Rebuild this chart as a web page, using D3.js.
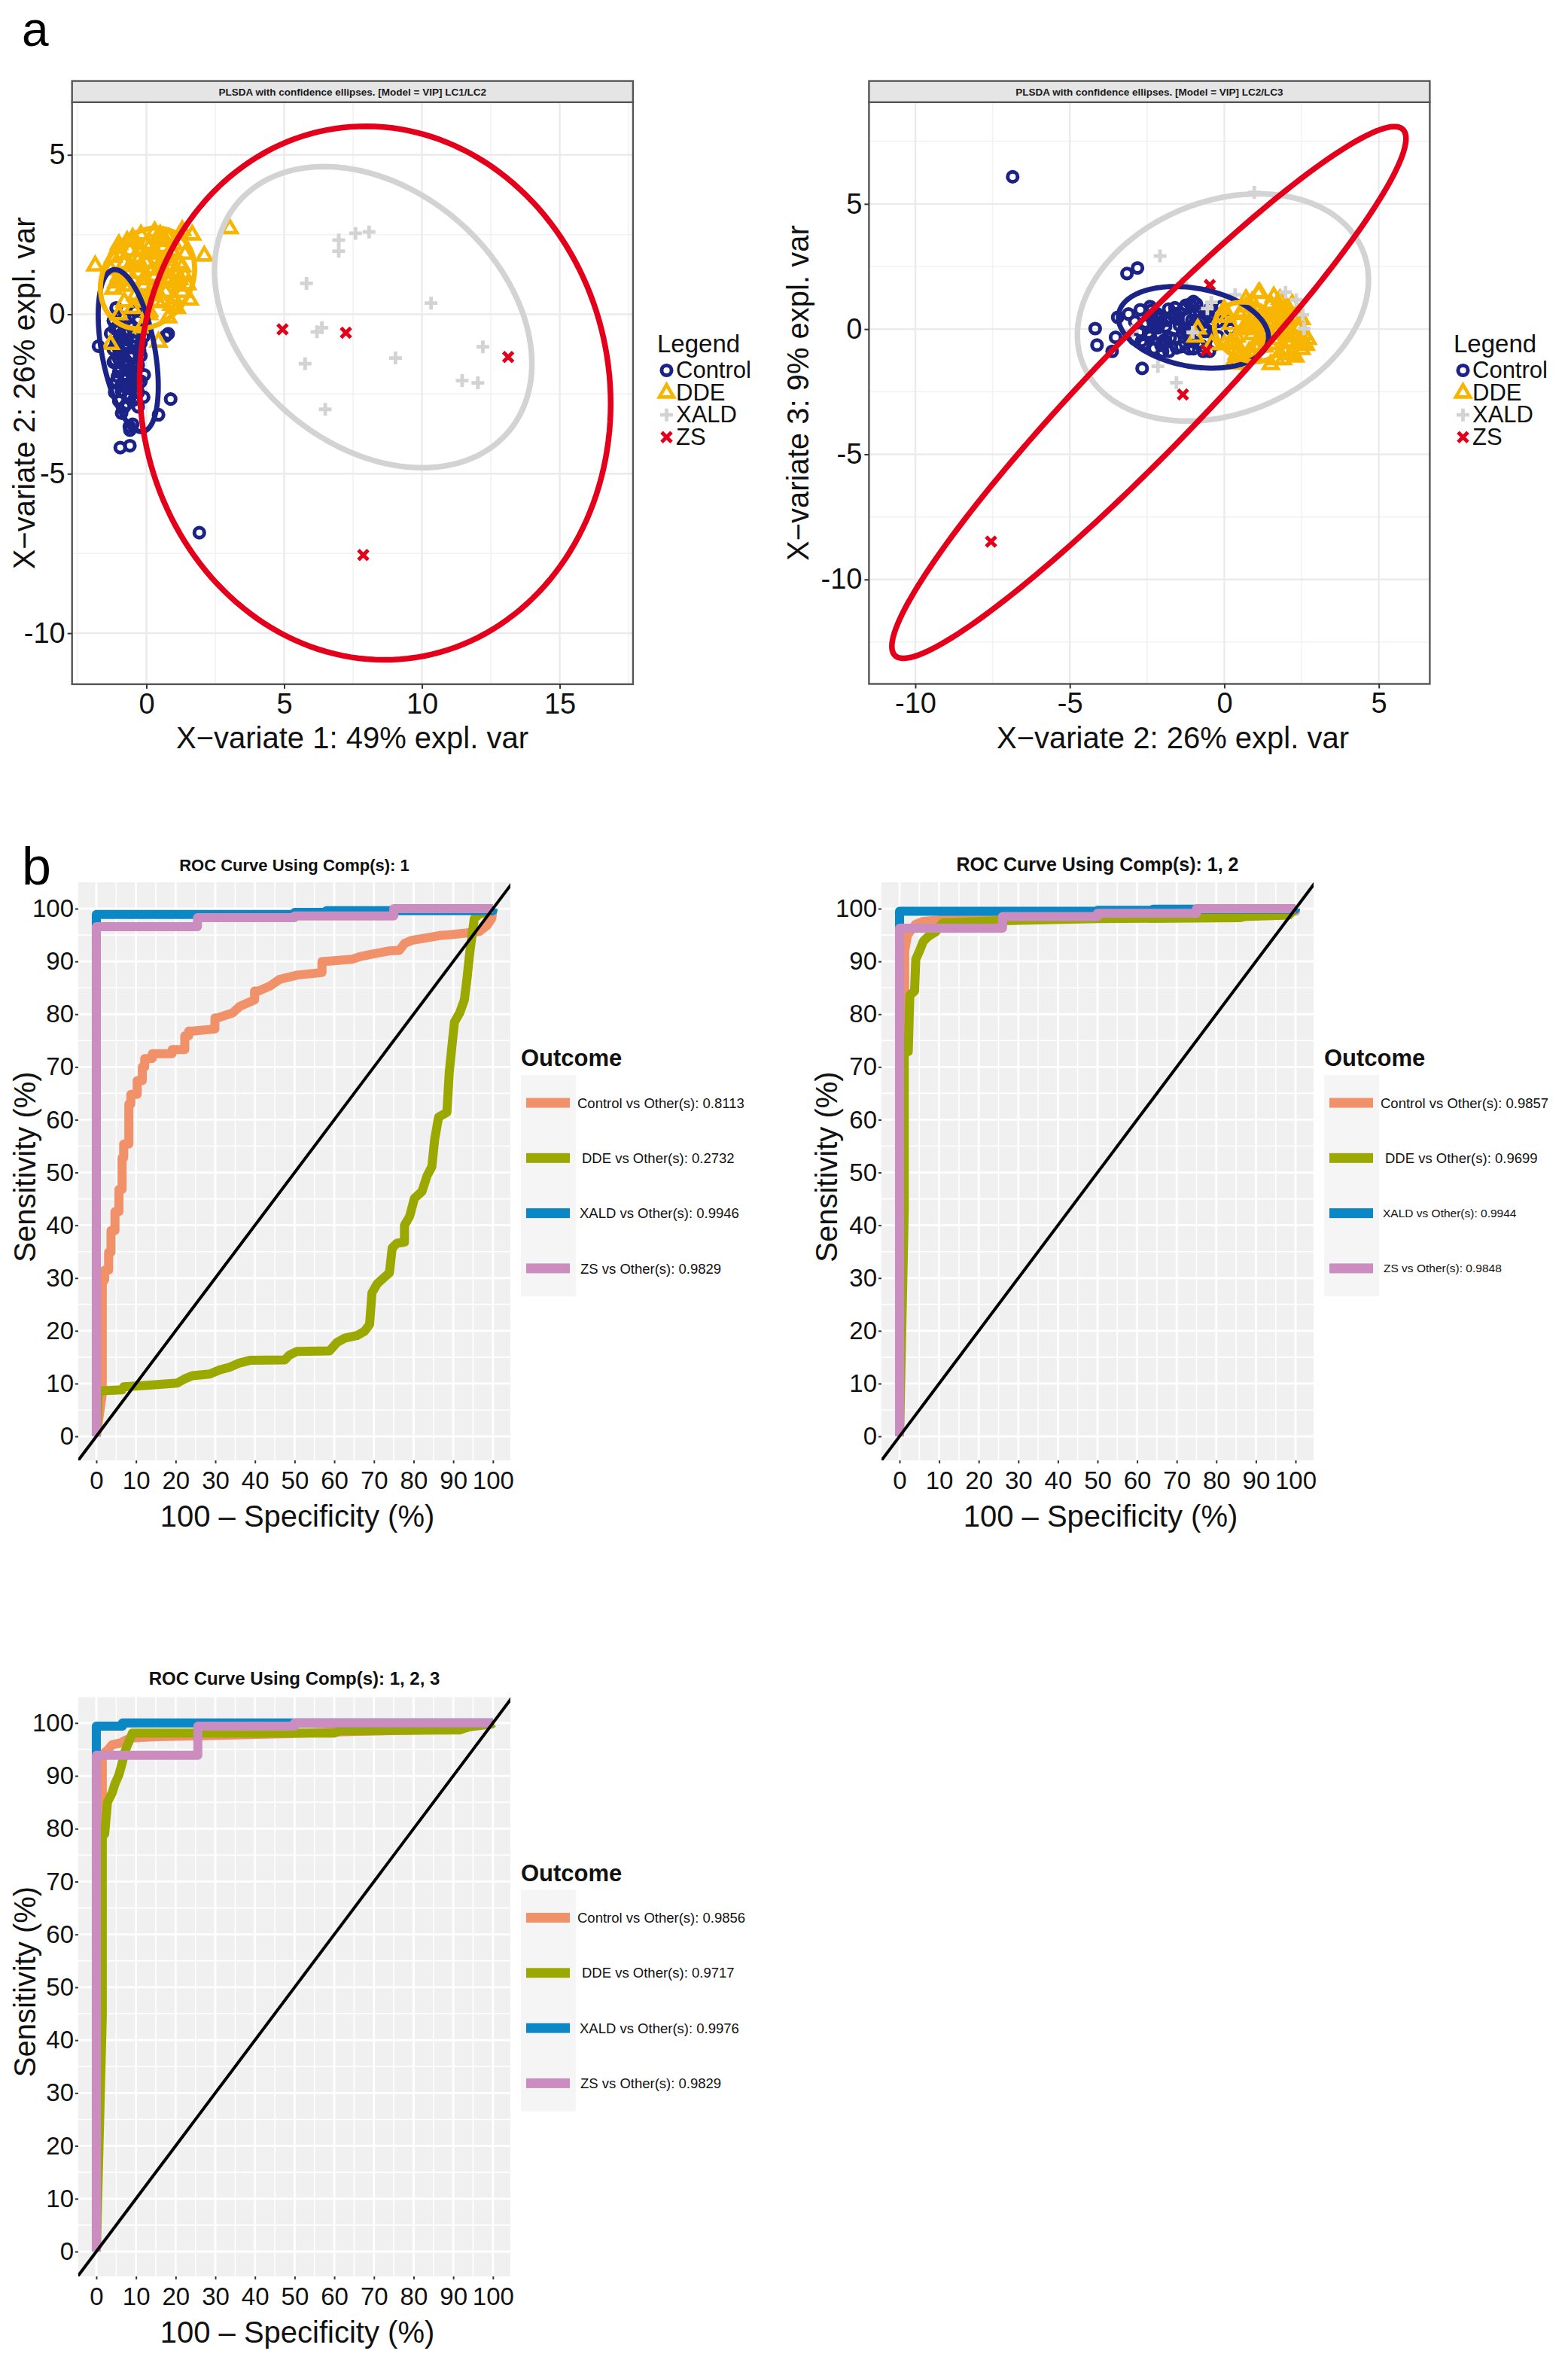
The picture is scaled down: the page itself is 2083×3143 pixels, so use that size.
<!DOCTYPE html>
<html><head><meta charset="utf-8">
<script src="https://cdn.jsdelivr.net/npm/d3@7"></script>
<style>
body{margin:0;background:#fff}
svg{display:block}
text{font-family:"Liberation Sans",Arial,Helvetica,sans-serif}
</style>
</head><body>
<svg id="fig" width="2083" height="3143"></svg>
<script>
// ===================== DATA =====================
const groupNames = ["Control", "DDE", "XALD", "ZS"];

// PLS-DA sample scores: [X-variate 1, X-variate 2, X-variate 3]
const controlScores = [
  [1.92,-6.85,6.08],[-0.95,-4.18,0.02],[-0.60,-4.12,-0.64],[-0.60,-3.63,-0.89],[-0.62,-3.52,-0.33],
  [-0.50,-3.45,0.47],[0.44,-3.15,2.22],[-0.71,-2.81,2.44],[0.88,-2.66,-1.57],[-0.08,-1.90,-0.48],
  [-1.74,-1.00,-0.78],[0.70,-0.68,-0.89],[0.79,-0.61,0.60],[-1.00,-2.72,0.77],[-0.90,-2.19,0.62],
  [-0.40,-2.27,-0.78],[-0.60,-1.79,-0.89],[-0.30,-1.14,-0.78],[-0.20,-0.48,-0.89],[-0.45,-2.68,-0.48],
  [-1.20,-0.20,0.30],[-1.00,-0.50,0.50],[-0.80,-0.10,0.90],[-1.10,-0.90,0.10],[-0.90,-1.20,-0.20],
  [-0.70,-0.80,0.70],[-0.50,-0.40,0.20],[-1.20,-1.50,0.40],[-1.00,-1.80,0.80],[-0.80,-1.60,-0.40],
  [-0.60,-1.30,0.00],[-0.40,-1.00,-0.50],[-1.10,-2.10,0.20],[-0.90,-2.40,-0.30],[-0.70,-2.20,0.50],
  [-0.50,-1.90,0.10],[-0.30,-1.60,0.60],[-1.00,-2.70,-0.10],[-0.80,-2.90,0.30],[-0.60,-2.60,-0.60],
  [-0.40,-2.40,0.90],[-0.20,-2.10,-0.20],[-1.30,-0.60,-0.10],[-0.10,-0.70,0.40],[-0.30,-0.20,-0.30],
  [-1.20,-1.10,1.00],[-0.60,-0.30,-0.60],[-0.90,-3.10,0.60],[-0.30,-2.90,-0.40],[-0.70,-1.00,1.10],
  [-0.20,-1.30,0.80],[-1.00,-1.40,-0.70],[-0.50,-2.00,-0.90],[-0.40,0.10,0.40],[-1.10,0.20,0.00],
  [-0.10,-2.60,0.20],[-0.80,-0.60,-0.40],[-0.20,-0.90,1.00],
  [-1.15,-0.45,0.85],[-0.95,-0.75,-0.65],[-0.75,-1.05,0.35],[-0.55,-1.35,-0.15],[-0.35,-1.65,0.55],
  [-1.05,-1.95,-0.45],[-0.85,-2.25,0.05],[-0.65,-2.55,0.25],[-0.45,-0.85,0.15],[-0.25,-1.15,-0.35],
  [-1.15,-1.45,0.65],[-0.95,-1.75,0.45],[-0.75,-2.05,-0.65],[-0.55,-2.35,0.75],[-0.35,-0.55,-0.05],
  [-1.05,-0.95,0.25],[-0.85,-1.25,0.95],[-0.65,-1.55,-0.75],[-0.45,-1.85,0.35],[-0.25,-2.15,0.05],
  [-1.15,-2.45,-0.25],[-0.95,-0.65,0.05],[-0.75,-1.45,0.15],[-0.55,-1.75,-0.35],[-0.35,-2.05,0.45],
  [-1.00,-1.10,-0.10],[-0.60,-2.30,0.30],[-0.80,-0.95,0.55],[-0.50,-1.60,0.85],[-0.30,-2.45,-0.15]
];
const ddeScores = [
  [-1.86,1.53,0.30],[-1.04,2.08,0.80],[1.66,2.50,-0.60],[3.02,2.70,-0.40],[2.10,1.84,0.20],
  [1.49,0.94,-1.00],[1.57,0.46,-0.90],[0.79,-0.10,0.50],[0.44,-0.86,0.02],[-1.30,-0.93,-0.30],
  [-0.17,-0.41,-0.60],[0.90,1.14,1.47],[1.20,1.10,1.44],[1.30,2.64,-0.63],[0.60,0.38,-1.38],
  [-1.20,0.80,0.10],[-1.00,1.20,-0.40],[-0.80,1.60,0.60],[-0.60,2.00,-0.20],[-0.40,2.30,0.40],
  [-0.20,2.50,-0.80],[0.00,2.20,1.00],[0.20,1.90,-1.20],[0.40,2.40,0.00],[0.60,2.10,-0.50],
  [0.80,1.80,0.70],[1.00,2.20,-1.00],[1.20,1.60,0.30],[1.00,1.00,-0.70],[0.70,0.70,0.90],
  [0.40,0.40,-0.30],[0.10,0.10,0.50],[-0.20,0.50,-1.10],[-0.50,0.20,0.20],[-0.80,0.40,-0.60],
  [-1.00,0.00,0.80],[-0.60,0.90,-0.90],[-0.30,1.30,0.10],[0.00,1.60,-0.40],[0.30,1.20,0.60],
  [0.60,1.40,-0.10],[0.90,0.30,-1.30],[-0.40,1.80,1.20],[0.20,0.80,-0.90],[-0.90,1.90,0.40],
  [1.30,0.70,0.00],[-0.10,0.90,1.10],[0.50,1.00,0.20],[1.10,1.30,-0.20],[-1.30,1.40,-0.10],
  [0.30,2.00,0.90],[-0.70,2.30,-1.10],[0.80,2.40,0.10],[1.40,1.90,-0.80],[-0.50,1.10,0.30],
  [0.10,0.00,-0.60],[1.00,0.50,0.60],[-0.20,1.50,-1.40],
  [-1.10,1.00,0.50],[-0.70,1.30,-0.70],[-0.30,1.70,0.80],[0.10,2.10,-0.30],[0.50,2.50,0.40],
  [0.90,2.00,-0.90],[1.30,1.50,1.00],[0.80,1.10,-0.40],[0.40,0.70,1.20],[0.00,0.40,-1.00],
  [-0.40,0.60,0.70],[-0.80,0.90,-0.20],[-1.20,1.80,0.90],[-0.50,2.40,-0.50],[0.20,1.40,0.30],
  [0.60,1.70,-1.20],[1.00,1.90,0.60],[1.20,0.90,-1.10],[-0.10,1.10,-0.70],[0.30,0.60,0.00],
  [-0.60,1.50,1.00],[-1.00,2.20,-0.90],[0.70,2.30,0.50],[1.10,0.20,-0.50],[0.50,1.60,1.30],
  [-0.20,2.00,0.20],[0.90,1.50,-0.60],[-0.90,1.10,0.20],[0.30,2.60,-0.20],[1.40,1.20,0.40]
];
const xaldScores = [
  [6.49,-2.98,-0.08],[12.03,-2.15,-1.49],[11.46,-2.08,2.92],[5.76,-1.55,-2.14],[9.04,-1.37,1.82],
  [12.21,-1.02,-0.13],[6.19,-0.55,0.82],[6.37,-0.42,1.07],[10.33,0.35,1.37],[5.81,0.97,5.46],
  [6.98,1.98,1.47],[6.98,2.33,1.17],[7.59,2.54,0.57],[8.08,2.58,0.02]
];
const zsScores = [
  [4.94,-0.47,1.76],[7.24,-0.58,-0.85],[13.13,-1.34,-2.61],[7.87,-7.55,-8.49]
];

// Confidence ellipses (centre, two conjugate semi-axis vectors, data units)
const ellipseLC12Centers = [[-0.66,-1.14],[0.04,1.125],[8.23,-0.09],[8.30,-2.47]];
const ellipseLC12AxisA   = [[1.09,-1.12],[1.71,0.30],[5.76,-1.46],[8.55,-0.33]];
const ellipseLC12AxisB   = [[0,2.28],[0,1.55],[0,4.49],[0,8.36]];
const ellipseLC23Centers = [[-1.00,0.07],[0.80,-0.11],[-0.045,0.865],[-2.44,-2.53]];
const ellipseLC23AxisA   = [[2.43,-0.40],[1.12,-0.22],[4.71,1.10],[8.32,10.14]];
const ellipseLC23AxisB   = [[0,1.58],[0,1.17],[0,4.40],[0,3.15]];

const lc12XTicks = [0, 5, 10, 15];
const lc12YTicks = [-10, -5, 0, 5];
const lc23XTicks = [-10, -5, 0, 5];
const lc23YTicks = [-10, -5, 0, 5];

// ROC curves: [100 - specificity, sensitivity]
const rocComp1Control = [[0,0],[1.5,8],[1.5,29],[2.1,29.7],[2.1,31.5],[3.1,31.5],[3.1,34.9],[3.7,34.9],[3.7,39],[4.7,39],[4.7,42.6],[5.7,42.6],[5.7,46.8],[6.5,46.8],[6.5,52.8],[6.9,52.8],[6.9,55.4],[8.2,55.4],[8.2,63],[8.7,63],[8.7,64.8],[10.3,64.8],[10.3,67.4],[11.6,67.4],[11.6,70],[12.2,70],[12.2,71.6],[14.1,71.6],[14.1,72.5],[19.1,72.5],[19.1,73.3],[22.3,73.3],[22.3,75.9],[23.3,75.9],[23.3,76.8],[24.2,76.8],[29.9,77.2],[29.9,79.3],[30.5,79.3],[34.3,80.2],[36.2,81.5],[39.9,82.7],[39.9,84.4],[40.9,84.4],[43.7,85.3],[46.2,86.6],[50.6,87.4],[56.9,87.9],[56.9,90],[57.6,90],[64.5,90.4],[66.4,90.9],[68.9,91.3],[73.9,92],[76.4,92.1],[77.7,93.4],[79.6,94],[82.7,94.4],[86.5,94.9],[89.7,95.1],[93.5,95.4],[96.6,95.7],[98.5,96.8],[99.7,98.1],[100,100]];
const rocComp1DDE = [[0,0],[0.5,8.6],[6.5,8.8],[6.9,9.4],[13.5,9.7],[20.4,10.1],[22.3,10.9],[24.2,11.5],[28.6,11.8],[31.1,12.6],[33.6,13.1],[36.1,13.9],[38.7,14.4],[47.5,14.5],[48.7,15.4],[50.6,16.1],[58.8,16.2],[60.7,17.8],[62.6,18.6],[65.7,19.1],[67.6,19.9],[68.9,21.2],[69.5,27.2],[70.8,28.9],[72.7,30.2],[73.9,31],[74.6,35.7],[75.8,36.6],[77.7,36.8],[77.7,40],[79,41.7],[80.2,45.1],[82.1,46.4],[83.4,49.4],[84.6,51.1],[85.3,56.2],[86.3,60.5],[88.4,61.4],[89,69.1],[89.7,74.2],[90.3,78.5],[91.6,80.2],[92.8,82.7],[93.5,87],[94.1,91.3],[94.7,94.7],[95.3,98.1],[96.6,99],[99,99.4],[100,100]];
const rocComp1XALD = [[0,0],[0,98.9],[50,98.9],[50,99.3],[58,99.3],[58,99.6],[100,99.6],[100,100]];
const rocComp1ZS = [[0,0],[0,96.6],[25.5,96.6],[25.5,98.3],[50,98.3],[50,98.6],[75,98.6],[75,100],[100,100]];

const rocComp12Control = [[0,0],[1.3,84],[1.3,92],[2,95],[3,96],[4,97],[6,97.6],[11,97.9],[26,97.9],[27,98.2],[50,98.2],[50,98.5],[75,98.5],[75,99.2],[100,99.5],[100,100]];
const rocComp12DDE = [[0,0],[1.2,43],[1.2,72.9],[2.2,72.9],[2.6,83.6],[3.8,84.4],[4.1,90.4],[5.1,92.1],[6,93.8],[7.2,94.7],[9.1,95.6],[10.9,97.3],[24,97.7],[50,98.1],[86,98.3],[87.2,98.5],[98.4,98.8],[99.6,99.8],[100,100]];
const rocComp12XALD = [[0,0],[0,99.5],[50,99.5],[50,99.7],[64,99.7],[64,99.9],[100,99.9],[100,100]];
const rocComp12ZS = [[0,0],[0,96.3],[26,96.3],[26,98.5],[50,98.5],[50,99.1],[75,99.1],[75,100],[100,100]];

const rocComp123Control = [[0,0],[1.5,86],[1.5,94],[3,95],[4,95.9],[6,96.2],[7.5,96.8],[9.5,97.2],[15,97.4],[27,97.6],[50,98],[60,98.3],[90,98.8],[100,100]];
const rocComp123DDE = [[0,0],[1.5,44.5],[1.5,78.5],[2.1,79],[2.8,85],[4,86.8],[4.7,88.5],[5.7,90.2],[6.5,92.4],[7.2,94.6],[8.4,96.8],[9.1,98.1],[60,98.1],[61.3,98.5],[91.6,98.7],[94.1,99.3],[99.7,99.8],[100,100]];
const rocComp123XALD = [[0,0],[0,99.4],[6.6,99.4],[6.6,100],[100,100]];
const rocComp123ZS = [[0,0],[0,93.9],[25.6,93.9],[25.6,99.4],[50,99.4],[50,100],[100,100]];

const aucComp1 = [0.8113, 0.2732, 0.9946, 0.9829];
const aucComp12 = [0.9857, 0.9699, 0.9944, 0.9848];
const aucComp123 = [0.9856, 0.9717, 0.9976, 0.9829];

const rocTicks = [0,10,20,30,40,50,60,70,80,90,100];
const rocTitles = ["ROC Curve Using Comp(s): 1", "ROC Curve Using Comp(s): 1, 2", "ROC Curve Using Comp(s): 1, 2, 3"];

// ===================== STYLE =====================
const plsdaColors = ["#1C2387", "#F7B400", "#D3D3D3", "#E4001B"];
const rocColors = ["#F0916A", "#9AA800", "#0A87C5", "#CB8DBF"];
const FONT = '"Liberation Sans",Arial,Helvetica,sans-serif';

const svg = d3.select("#fig");
svg.append("rect").attr("width", 2083).attr("height", 3143).attr("fill", "#fff");

let clipCount = 0;
function makeClip(x0, y0, w, h) {
  const id = "clip" + (clipCount++);
  svg.append("clipPath").attr("id", id).append("rect")
    .attr("x", x0).attr("y", y0).attr("width", w).attr("height", h);
  return "url(#" + id + ")";
}

function minorTicks(ticks, domain) {
  const step = ticks[1] - ticks[0];
  const out = [];
  for (let v = ticks[0] - step / 2; v <= ticks[ticks.length - 1] + step; v += step) {
    if (v > Math.min(...domain) && v < Math.max(...domain)) out.push(v);
  }
  return out;
}

function drawSymbol(sel, gi, cx, cy, color) {
  if (gi === 0) {
    sel.append("circle").attr("cx", cx).attr("cy", cy).attr("r", 6.6)
      .attr("fill", "none").attr("stroke", color).attr("stroke-width", 5);
  } else if (gi === 1) {
    sel.append("path").attr("d", `M${cx},${cy - 10.5}L${cx + 9.5},${cy + 5.8}L${cx - 9.5},${cy + 5.8}Z`)
      .attr("fill", "none").attr("stroke", color).attr("stroke-width", 4.6).attr("stroke-linejoin", "miter");
  } else if (gi === 2) {
    sel.append("path").attr("d", `M${cx - 8.5},${cy}H${cx + 8.5}M${cx},${cy - 8.5}V${cy + 8.5}`)
      .attr("fill", "none").attr("stroke", color).attr("stroke-width", 4.8);
  } else {
    sel.append("path").attr("d", `M${cx - 6.5},${cy - 6.5}L${cx + 6.5},${cy + 6.5}M${cx - 6.5},${cy + 6.5}L${cx + 6.5},${cy - 6.5}`)
      .attr("fill", "none").attr("stroke", color).attr("stroke-width", 5);
  }
}

// ===================== PLS-DA PANELS =====================
const scoreSets = [controlScores, ddeScores, xaldScores, zsScores];

const plsdaPanels = [
  { ix: 0, iy: 1, left: 95.7, right: 840.9, top: 135.8, bottom: 908.9, stripTop: 107.6,
    xDomain: [-2.70, 17.66], yDomain: [-11.60, 6.65], xTicks: lc12XTicks, yTicks: lc12YTicks,
    strip: "PLSDA with confidence ellipses. [Model = VIP] LC1/LC2",
    xTitle: "X\u2212variate 1: 49% expl. var", yTitle: "X\u2212variate 2: 26% expl. var",
    xTitleX: 468, yTitleX: 46, legendX: 873,
    ec: ellipseLC12Centers, ea: ellipseLC12AxisA, eb: ellipseLC12AxisB },
  { ix: 1, iy: 2, left: 1154.4, right: 1899.4, top: 135.8, bottom: 908.5, stripTop: 107.6,
    xDomain: [-11.50, 6.65], yDomain: [-14.17, 9.06], xTicks: lc23XTicks, yTicks: lc23YTicks,
    strip: "PLSDA with confidence ellipses. [Model = VIP] LC2/LC3",
    xTitle: "X\u2212variate 2: 26% expl. var", yTitle: "X\u2212variate 3: 9% expl. var",
    xTitleX: 1558, yTitleX: 1074, legendX: 1931,
    ec: ellipseLC23Centers, ea: ellipseLC23AxisA, eb: ellipseLC23AxisB }
];

function drawPLSDA(cfg) {
  const g = svg.append("g");
  const x = d3.scaleLinear().domain(cfg.xDomain).range([cfg.left, cfg.right]);
  const y = d3.scaleLinear().domain(cfg.yDomain).range([cfg.bottom, cfg.top]);
  const W = cfg.right - cfg.left, H = cfg.bottom - cfg.top;

  g.append("rect").attr("x", cfg.left).attr("y", cfg.top).attr("width", W).attr("height", H).attr("fill", "#fff");

  const grid = g.append("g");
  minorTicks(cfg.xTicks, cfg.xDomain).forEach(v => grid.append("line")
    .attr("x1", x(v)).attr("x2", x(v)).attr("y1", cfg.top).attr("y2", cfg.bottom)
    .attr("stroke", "#F2F2F2").attr("stroke-width", 1.6));
  minorTicks(cfg.yTicks, cfg.yDomain).forEach(v => grid.append("line")
    .attr("y1", y(v)).attr("y2", y(v)).attr("x1", cfg.left).attr("x2", cfg.right)
    .attr("stroke", "#F2F2F2").attr("stroke-width", 1.6));
  cfg.xTicks.forEach(v => grid.append("line")
    .attr("x1", x(v)).attr("x2", x(v)).attr("y1", cfg.top).attr("y2", cfg.bottom)
    .attr("stroke", "#EBEBEB").attr("stroke-width", 2.4));
  cfg.yTicks.forEach(v => grid.append("line")
    .attr("y1", y(v)).attr("y2", y(v)).attr("x1", cfg.left).attr("x2", cfg.right)
    .attr("stroke", "#EBEBEB").attr("stroke-width", 2.4));

  const clip = makeClip(cfg.left, cfg.top, W, H);
  const plot = g.append("g").attr("clip-path", clip);

  scoreSets.forEach((set, gi) => {
    set.forEach(p => drawSymbol(plot, gi, x(p[cfg.ix]), y(p[cfg.iy]), plsdaColors[gi]));
  });

  const ts = d3.range(0, 361, 2).map(d => d * Math.PI / 180);
  const line = d3.line().x(d => x(d[0])).y(d => y(d[1])).curve(d3.curveLinearClosed);
  groupNames.forEach((name, gi) => {
    const c = cfg.ec[gi], a = cfg.ea[gi], b = cfg.eb[gi];
    const pts = ts.map(t => [c[0] + Math.cos(t) * a[0] + Math.sin(t) * b[0],
                             c[1] + Math.cos(t) * a[1] + Math.sin(t) * b[1]]);
    plot.append("path").attr("d", line(pts)).attr("fill", "none")
      .attr("stroke", plsdaColors[gi]).attr("stroke-width", gi >= 2 ? 7.5 : 6.8);
  });

  // border
  g.append("rect").attr("x", cfg.left).attr("y", cfg.top).attr("width", W).attr("height", H)
    .attr("fill", "none").attr("stroke", "#555").attr("stroke-width", 2.4);
  // strip
  g.append("rect").attr("x", cfg.left).attr("y", cfg.stripTop).attr("width", W).attr("height", cfg.top - cfg.stripTop)
    .attr("fill", "#E5E5E5").attr("stroke", "#555").attr("stroke-width", 2.4);
  g.append("text").attr("x", (cfg.left + cfg.right) / 2).attr("y", (cfg.stripTop + cfg.top) / 2 + 5)
    .attr("text-anchor", "middle").attr("font-size", 13.5).attr("font-weight", "bold").attr("fill", "#1A1A1A")
    .text(cfg.strip);

  // axes
  const xAxis = d3.axisBottom(x).tickValues(cfg.xTicks).tickSize(6).tickPadding(6).tickFormat(d => String(d));
  const yAxis = d3.axisLeft(y).tickValues(cfg.yTicks).tickSize(6).tickPadding(3).tickFormat(d => String(d));
  const gx = g.append("g").attr("transform", `translate(0,${cfg.bottom})`).call(xAxis);
  const gy = g.append("g").attr("transform", `translate(${cfg.left},0)`).call(yAxis);
  [gx, gy].forEach(ax => {
    ax.select(".domain").remove();
    ax.selectAll(".tick line").attr("stroke", "#333").attr("stroke-width", 2);
    ax.selectAll(".tick text").attr("font-size", 38).attr("font-family", FONT).attr("fill", "#111");
  });

  g.append("text").attr("x", cfg.xTitleX).attr("y", 994).attr("text-anchor", "middle")
    .attr("font-size", 40).attr("fill", "#111").text(cfg.xTitle);
  g.append("text").attr("transform", `translate(${cfg.yTitleX},${(cfg.top + cfg.bottom) / 2}) rotate(-90)`)
    .attr("text-anchor", "middle").attr("font-size", 40).attr("fill", "#111").text(cfg.yTitle);

  // legend
  const lg = g.append("g");
  lg.append("text").attr("x", cfg.legendX).attr("y", 468).attr("font-size", 33).attr("fill", "#111").text("Legend");
  groupNames.forEach((name, gi) => {
    const by = 502 + gi * 29.6;
    drawSymbol(lg, gi, cfg.legendX + 12.5, by - 10, plsdaColors[gi]);
    lg.append("text").attr("x", cfg.legendX + 25).attr("y", by).attr("font-size", 31).attr("fill", "#111").text(name);
  });
}
plsdaPanels.forEach(drawPLSDA);

// ===================== ROC PANELS =====================
const rocPanels = [
  { curves: [rocComp1Control, rocComp1DDE, rocComp1XALD, rocComp1ZS], auc: aucComp1, title: rocTitles[0],
    left: 104, right: 678, top: 1172, bottom: 1940, xDomain: [-4.55, 104.4], yDomain: [-4.56, 105.0],
    yTitleX: 47, titleSize: 22, labelSizes: [18.5, 18.5, 18.5, 18.5] },
  { curves: [rocComp12Control, rocComp12DDE, rocComp12XALD, rocComp12ZS], auc: aucComp12, title: rocTitles[1],
    left: 1171, right: 1745, top: 1172, bottom: 1940, xDomain: [-4.56, 104.56], yDomain: [-4.56, 105.0],
    yTitleX: 1112, titleSize: 25, labelSizes: [18.5, 18.5, 15.5, 15.5] },
  { curves: [rocComp123Control, rocComp123DDE, rocComp123XALD, rocComp123ZS], auc: aucComp123, title: rocTitles[2],
    left: 104, right: 678, top: 2253, bottom: 3024, xDomain: [-4.55, 104.4], yDomain: [-4.7, 105.1],
    yTitleX: 47, titleSize: 24, labelSizes: [18.5, 18.5, 18.5, 18.5] }
];
const labelOffsets = [75, 81, 78, 79];

function drawROC(cfg) {
  const g = svg.append("g");
  const x = d3.scaleLinear().domain(cfg.xDomain).range([cfg.left, cfg.right]);
  const y = d3.scaleLinear().domain(cfg.yDomain).range([cfg.bottom, cfg.top]);
  const W = cfg.right - cfg.left, H = cfg.bottom - cfg.top;

  g.append("rect").attr("x", cfg.left).attr("y", cfg.top).attr("width", W).attr("height", H).attr("fill", "#F0F0F0");
  const grid = g.append("g");
  minorTicks(rocTicks, cfg.xDomain).forEach(v => grid.append("line")
    .attr("x1", x(v)).attr("x2", x(v)).attr("y1", cfg.top).attr("y2", cfg.bottom)
    .attr("stroke", "#fff").attr("stroke-width", 1.6));
  minorTicks(rocTicks, cfg.yDomain).forEach(v => grid.append("line")
    .attr("y1", y(v)).attr("y2", y(v)).attr("x1", cfg.left).attr("x2", cfg.right)
    .attr("stroke", "#fff").attr("stroke-width", 1.6));
  rocTicks.forEach(v => grid.append("line")
    .attr("x1", x(v)).attr("x2", x(v)).attr("y1", cfg.top).attr("y2", cfg.bottom)
    .attr("stroke", "#fff").attr("stroke-width", 2.8));
  rocTicks.forEach(v => grid.append("line")
    .attr("y1", y(v)).attr("y2", y(v)).attr("x1", cfg.left).attr("x2", cfg.right)
    .attr("stroke", "#fff").attr("stroke-width", 2.8));

  const clip = makeClip(cfg.left, cfg.top, W, H);
  const plot = g.append("g").attr("clip-path", clip);
  const line = d3.line().x(d => x(d[0])).y(d => y(d[1]));
  cfg.curves.forEach((c, i) => {
    plot.append("path").attr("d", line(c)).attr("fill", "none").attr("stroke", rocColors[i])
      .attr("stroke-width", 12).attr("stroke-linejoin", "round").attr("stroke-linecap", "butt");
  });
  const diag = [[cfg.xDomain[0] - 10, cfg.xDomain[0] - 10], [cfg.xDomain[1] + 10, cfg.xDomain[1] + 10]];
  plot.append("path").attr("d", line(diag)).attr("stroke", "#000").attr("stroke-width", 4).attr("fill", "none");

  const xAxis = d3.axisBottom(x).tickValues(rocTicks).tickSize(4).tickPadding(11).tickFormat(d => String(d));
  const yAxis = d3.axisLeft(y).tickValues(rocTicks).tickSize(4).tickPadding(2).tickFormat(d => String(d));
  const gx = g.append("g").attr("transform", `translate(0,${cfg.bottom})`).call(xAxis);
  const gy = g.append("g").attr("transform", `translate(${cfg.left},0)`).call(yAxis);
  [gx, gy].forEach(ax => {
    ax.select(".domain").remove();
    ax.selectAll(".tick line").attr("stroke", "#333").attr("stroke-width", 2);
    ax.selectAll(".tick text").attr("font-size", 33).attr("font-family", FONT).attr("fill", "#111");
  });

  g.append("text").attr("x", (cfg.left + cfg.right) / 2).attr("y", cfg.top - 15).attr("text-anchor", "middle")
    .attr("font-size", cfg.titleSize).attr("font-weight", "bold").attr("fill", "#111").text(cfg.title);
  g.append("text").attr("x", (cfg.left + cfg.right) / 2 + 4).attr("y", cfg.bottom + 88).attr("text-anchor", "middle")
    .attr("font-size", 40).attr("fill", "#111").text("100 \u2013 Specificity (%)");
  g.append("text").attr("transform", `translate(${cfg.yTitleX},${(cfg.top + cfg.bottom) / 2 - 6}) rotate(-90)`)
    .attr("text-anchor", "middle").attr("font-size", 40).attr("fill", "#111").text("Sensitivity (%)");

  // legend
  const lx = cfg.right + 14;
  const ly = (cfg.top + cfg.bottom) / 2 - 140;
  const lg = g.append("g");
  lg.append("text").attr("x", lx).attr("y", ly).attr("font-size", 31).attr("font-weight", "bold")
    .attr("fill", "#111").text("Outcome");
  lg.append("rect").attr("x", lx).attr("y", ly + 12).attr("width", 73).attr("height", 294).attr("fill", "#F4F5F4");
  groupNames.forEach((name, i) => {
    const cy = ly + 49 + i * 73.3;
    lg.append("rect").attr("x", lx + 7).attr("y", cy - 6.5).attr("width", 58).attr("height", 13).attr("fill", rocColors[i]);
    lg.append("text").attr("x", lx + labelOffsets[i]).attr("y", cy + cfg.labelSizes[i] * 0.36)
      .attr("font-size", cfg.labelSizes[i]).attr("fill", "#111")
      .text(`${name} vs Other(s): ${cfg.auc[i].toFixed(4)}`);
  });
}
rocPanels.forEach(drawROC);

// panel letters
svg.append("text").attr("x", 29).attr("y", 61).attr("font-size", 64).attr("fill", "#000").text("a");
svg.append("text").attr("x", 29).attr("y", 1175).attr("font-size", 70).attr("fill", "#000").text("b");
</script>
</body></html>
